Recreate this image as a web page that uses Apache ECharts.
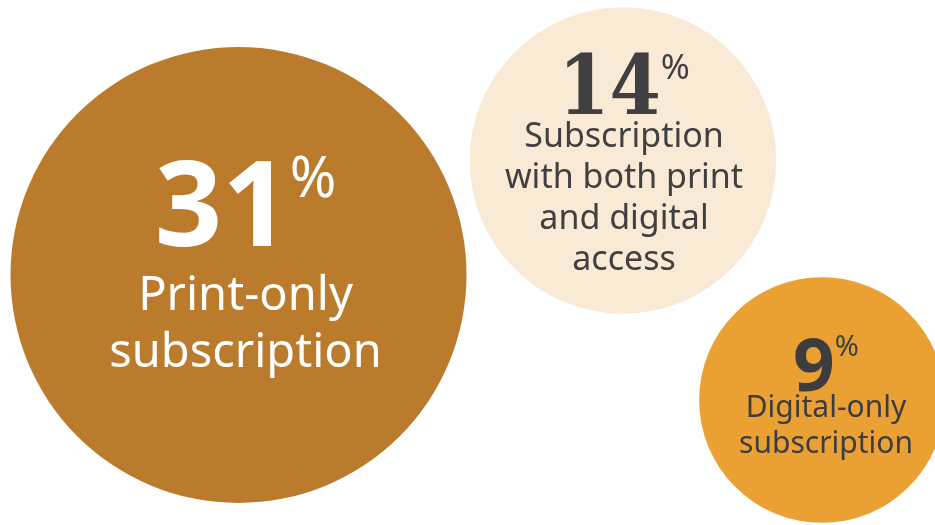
<!DOCTYPE html>
<html>
<head>
<meta charset="utf-8">
<script src="https://cdn.jsdelivr.net/npm/echarts@6/dist/echarts.min.js"></script>
<style>
  html, body { margin: 0; padding: 0; background: #fff; }
  #chart { width: 935px; height: 525px; }
</style>
</head>
<body>
<div id="chart"></div>
<script>
// 数据
const shares = [31, 14, 9]
const labelLines = [
  ['Print-only', 'subscription'],
  ['Subscription', 'with both print', 'and digital', 'access'],
  ['Digital-only', 'subscription']
]
// 圆心位置 (像素坐标轴)
const posX = [238.5, 623, 822]
const posY = [275, 160.5, 400]

const colors = ['#BA7B2D', '#F9EAD6', '#EAA032']
const textColors = ['#ffffff', '#404042', '#3d3d3f']

const maxDiameter = 456
function diameter(v) {
  return maxDiameter * Math.sqrt(v / shares[0])
}

// 每个圆的文字样式
const labelStyles = [
  {
    num: { fontSize: 118, fontWeight: 'bold', family: 'Noto Sans', lh: 115 },
    pct: { fontSize: 56, lh: 66 },
    txt: { fontSize: 47, lh: 57 },
    offset: [7, -7]
  },
  {
    num: { fontSize: 82, fontWeight: 'bold', family: 'DejaVu Serif Condensed', lh: 65 },
    pct: { fontSize: 35, lh: 46 },
    txt: { fontSize: 34, lh: 41 },
    offset: [1, 6]
  },
  {
    num: { fontSize: 73, fontWeight: 'bold', family: 'Noto Sans', lh: 57 },
    pct: { fontSize: 29, lh: 32 },
    txt: { fontSize: 30, lh: 36 },
    offset: [4, -2]
  }
]

const seriesData = shares.map((v, i) => {
  const s = labelStyles[i]
  const c = textColors[i]
  const lines = labelLines[i].map(t => '{txt|' + t + '}').join('\n')
  return {
    value: [posX[i], posY[i], v],
    symbolSize: diameter(v),
    itemStyle: { color: colors[i], opacity: 1 },
    label: {
      show: true,
      position: 'inside',
      offset: s.offset,
      align: 'center',
      formatter: '{num|' + v + '}{pct|%}\n' + lines,
      rich: {
        num: {
          color: c,
          fontSize: s.num.fontSize,
          fontWeight: s.num.fontWeight,
          fontFamily: s.num.family,
          lineHeight: s.num.lh,
          verticalAlign: 'top'
        },
        pct: {
          color: c,
          fontSize: s.pct.fontSize,
          fontFamily: 'Noto Sans',
          lineHeight: s.pct.lh,
          verticalAlign: 'top'
        },
        txt: {
          color: c,
          fontSize: s.txt.fontSize,
          fontFamily: 'Noto Sans',
          lineHeight: s.txt.lh,
          align: 'center'
        }
      }
    }
  }
})

const chart = echarts.init(document.getElementById('chart'))

chart.setOption({
  animation: false,
  backgroundColor: '#ffffff',
  grid: { left: 0, right: 0, top: 0, bottom: 0 },
  xAxis: { type: 'value', min: 0, max: 935, show: false },
  yAxis: { type: 'value', min: 0, max: 525, inverse: true, show: false },
  series: [
    {
      type: 'scatter',
      clip: false,
      symbol: 'circle',
      data: seriesData,
      emphasis: { disabled: true }
    }
  ]
})

window.addEventListener('resize', () => {
  chart.resize()
})
</script>
</body>
</html>
